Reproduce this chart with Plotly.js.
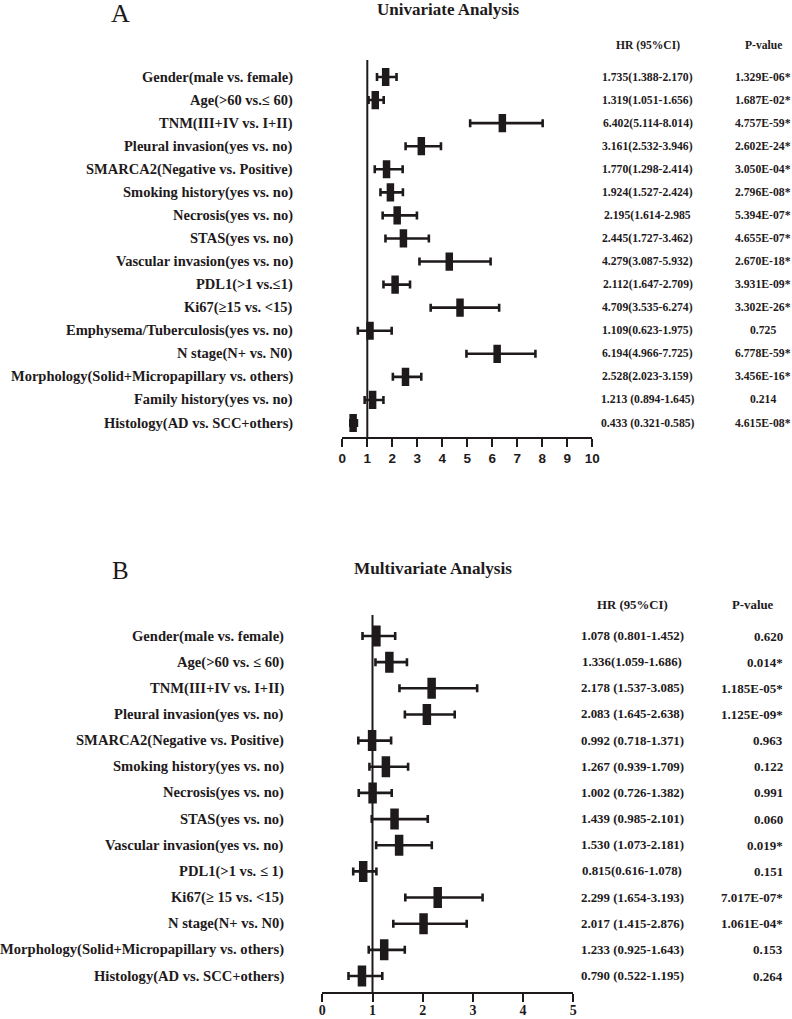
<!DOCTYPE html>
<html>
<head>
<meta charset="utf-8">
<script src="https://cdn.plot.ly/plotly-3.0.1.min.js"></script>
<style>html,body{margin:0;padding:0;background:#fff;}#chart{width:792px;height:1019px;}</style>
</head>
<body>
<div id="chart"></div>
<script>
// ---------- Panel A: Univariate ----------
const labelsA = [
  "Gender(male vs. female)",
  "Age(&gt;60 vs.≤ 60)",
  "TNM(III+IV vs. I+II)",
  "Pleural invasion(yes vs. no)",
  "SMARCA2(Negative vs. Positive)",
  "Smoking history(yes vs. no)",
  "Necrosis(yes vs. no)",
  "STAS(yes vs. no)",
  "Vascular invasion(yes vs. no)",
  "PDL1(&gt;1 vs.≤1)",
  "Ki67(≥15 vs. &lt;15)",
  "Emphysema/Tuberculosis(yes vs. no)",
  "N stage(N+ vs. N0)",
  "Morphology(Solid+Micropapillary vs. others)",
  "Family history(yes vs. no)",
  "Histology(AD vs. SCC+others)"
];
const hrA  = [1.735, 1.319, 6.402, 3.161, 1.770, 1.924, 2.195, 2.445, 4.279, 2.112, 4.709, 1.109, 6.194, 2.528, 1.213, 0.433];
const loA  = [1.388, 1.051, 5.114, 2.532, 1.298, 1.527, 1.614, 1.727, 3.087, 1.647, 3.535, 0.623, 4.966, 2.023, 0.894, 0.321];
const hiA  = [2.170, 1.656, 8.014, 3.946, 2.414, 2.424, 2.985, 3.462, 5.932, 2.709, 6.274, 1.975, 7.725, 3.159, 1.645, 0.585];
const hrTextA = [
  "1.735(1.388-2.170)", "1.319(1.051-1.656)", "6.402(5.114-8.014)", "3.161(2.532-3.946)",
  "1.770(1.298-2.414)", "1.924(1.527-2.424)", "2.195(1.614-2.985", "2.445(1.727-3.462)",
  "4.279(3.087-5.932)", "2.112(1.647-2.709)", "4.709(3.535-6.274)", "1.109(0.623-1.975)",
  "6.194(4.966-7.725)", "2.528(2.023-3.159)", "1.213 (0.894-1.645)", "0.433 (0.321-0.585)"
];
const pTextA = [
  "1.329E-06*", "1.687E-02*", "4.757E-59*", "2.602E-24*", "3.050E-04*", "2.796E-08*",
  "5.394E-07*", "4.655E-07*", "2.670E-18*", "3.931E-09*", "3.302E-26*", "0.725",
  "6.778E-59*", "3.456E-16*", "0.214", "4.615E-08*"
];
const ticksA = [0, 1, 2, 3, 4, 5, 6, 7, 8, 9, 10];

// ---------- Panel B: Multivariate ----------
const labelsB = [
  "Gender(male vs. female)",
  "Age(&gt;60 vs. ≤ 60)",
  "TNM(III+IV vs. I+II)",
  "Pleural invasion(yes vs. no)",
  "SMARCA2(Negative vs. Positive)",
  "Smoking history(yes vs. no)",
  "Necrosis(yes vs. no)",
  "STAS(yes vs. no)",
  "Vascular invasion(yes vs. no)",
  "PDL1(&gt;1 vs. ≤ 1)",
  "Ki67(≥ 15 vs. &lt;15)",
  "N stage(N+ vs. N0)",
  "Morphology(Solid+Micropapillary vs. others)",
  "Histology(AD vs. SCC+others)"
];
const hrB = [1.078, 1.336, 2.178, 2.083, 0.992, 1.267, 1.002, 1.439, 1.530, 0.815, 2.299, 2.017, 1.233, 0.790];
const loB = [0.801, 1.059, 1.537, 1.645, 0.718, 0.939, 0.726, 0.985, 1.073, 0.616, 1.654, 1.415, 0.925, 0.522];
const hiB = [1.452, 1.686, 3.085, 2.638, 1.371, 1.709, 1.382, 2.101, 2.181, 1.078, 3.193, 2.876, 1.643, 1.195];
const hrTextB = [
  "1.078 (0.801-1.452)", "1.336(1.059-1.686)", "2.178 (1.537-3.085)", "2.083 (1.645-2.638)",
  "0.992 (0.718-1.371)", "1.267 (0.939-1.709)", "1.002 (0.726-1.382)", "1.439 (0.985-2.101)",
  "1.530 (1.073-2.181)", "0.815(0.616-1.078)", "2.299 (1.654-3.193)", "2.017 (1.415-2.876)",
  "1.233 (0.925-1.643)", "0.790 (0.522-1.195)"
];
const pTextB = [
  "0.620", "0.014*", "1.185E-05*", "1.125E-09*", "0.963", "0.122", "0.991",
  "0.060", "0.019*", "0.151", "7.017E-07*", "1.061E-04*", "0.153", "0.264"
];
const ticksB = [0, 1, 2, 3, 4, 5];

// ---------- drawing ----------
const W = 792, H = 1019;
const INK = "#1e1a1b";
const serif = "Liberation Serif, Times New Roman, serif";
const sans = "Liberation Sans, Arial, sans-serif";
const px = v => v / W;
const py = v => (H - v) / H;
const idx = arr => arr.map((_, i) => i);

function forestTrace(hr, lo, hi, xa, ya, msize, mwidth) {
  return {
    type: "scatter", mode: "markers", xaxis: xa, yaxis: ya,
    x: hr, y: idx(hr),
    marker: { symbol: "line-ns", size: msize, color: INK, line: { color: INK, width: mwidth } },
    error_x: {
      type: "data", symmetric: false,
      array: hi.map((h, i) => h - hr[i]),
      arrayminus: lo.map((l, i) => hr[i] - l),
      color: INK, thickness: 2.6, width: 4
    },
    hoverinfo: "skip", showlegend: false
  };
}

const data = [
  forestTrace(hrA, loA, hiA, "x", "y", 13, 7.5),
  forestTrace(hrB, loB, hiB, "x2", "y2", 15, 8.5)
];

const annotations = [];
function addText(text, x, yv, yref, size, anchor, weight, family) {
  annotations.push({
    text: text, x: x, xref: "paper", y: yv, yref: yref,
    xanchor: anchor, yanchor: "middle", showarrow: false,
    font: { family: family || serif, size: size, color: INK, weight: weight || "bold" }
  });
}

labelsA.forEach((t, i) => addText(t, px(295), i, "y", 14.5, "right"));
hrTextA.forEach((t, i) => addText(t, px(647.5), i, "y", 11.7, "center"));
pTextA.forEach((t, i) => addText(t, px(763), i, "y", 11.7, "center"));
labelsB.forEach((t, i) => addText(t, px(286), i, "y2", 14.6, "right"));
hrTextB.forEach((t, i) => addText(t, px(632), i, "y2", 12.9, "center"));
pTextB.forEach((t, i) => addText(t, px(785), i, "y2", 13, "right"));

// headers and titles
addText("HR (95%CI)", px(648), py(45), "paper", 11.6, "center");
addText("P-value", px(763), py(45), "paper", 11.6, "center");
addText("Univariate Analysis", px(448), py(9), "paper", 17, "center");
addText("A", px(120.5), py(14), "paper", 26, "center", "normal");
addText("HR (95%CI)", px(632), py(605), "paper", 12.8, "center");
addText("P-value", px(753), py(605), "paper", 12.8, "center");
addText("Multivariate Analysis", px(433), py(568), "paper", 17.2, "center");
addText("B", px(120.5), py(570), "paper", 25, "center", "normal");

function xAxis(domain, range, ticks, anchor, font, ticklen, standoff) {
  return {
    domain: domain, range: range, anchor: anchor, fixedrange: true,
    tickvals: ticks, ticktext: ticks.map(String),
    showline: true, linewidth: 2, linecolor: INK, mirror: false,
    ticks: "outside", ticklen: ticklen, tickwidth: 2, tickcolor: INK,
    ticklabelstandoff: standoff,
    showgrid: false, zeroline: false, tickfont: font
  };
}
function yAxis(domain, top, bottom, anchor) {
  return {
    domain: domain, anchor: anchor, range: [bottom, top], fixedrange: true,
    visible: false, showgrid: false, zeroline: false
  };
}

// row spacing for A: 16 rows from y=77 to y=423; plot box 60..437
const spA = (423 - 77) / 15;
// row spacing for B: 14 rows from y=636 to y=976; plot box 615..992
const spB = (976 - 636) / 13;

const layout = {
  width: W, height: H,
  margin: { l: 0, r: 0, t: 0, b: 0 },
  paper_bgcolor: "#ffffff", plot_bgcolor: "rgba(0,0,0,0)",
  showlegend: false,
  xaxis: xAxis([px(342.3), px(592.3)], [0, 10], ticksA, "y",
    { family: sans, size: 13.5, color: INK, weight: "bold" }, 8, 0),
  yaxis: yAxis([py(437), py(60)], -(77 - 60) / spA, 15 + (437 - 423) / spA, "x"),
  xaxis2: xAxis([px(322.3), px(573.3)], [0, 5], ticksB, "y2",
    { family: serif, size: 14, color: INK, weight: "bold" }, 8, -4),
  yaxis2: yAxis([py(992), py(615)], -(636 - 615) / spB, 13 + (992 - 976) / spB, "x2"),
  shapes: [
    { type: "line", xref: "x", x0: 1, x1: 1, yref: "y domain", y0: 0, y1: 1, line: { color: INK, width: 2 } },
    { type: "line", xref: "x2", x0: 1, x1: 1, yref: "y2 domain", y0: 0, y1: 1, line: { color: INK, width: 2 } }
  ],
  annotations: annotations
};

Plotly.newPlot("chart", data, layout, { displayModeBar: false, staticPlot: true });
</script>
</body>
</html>
